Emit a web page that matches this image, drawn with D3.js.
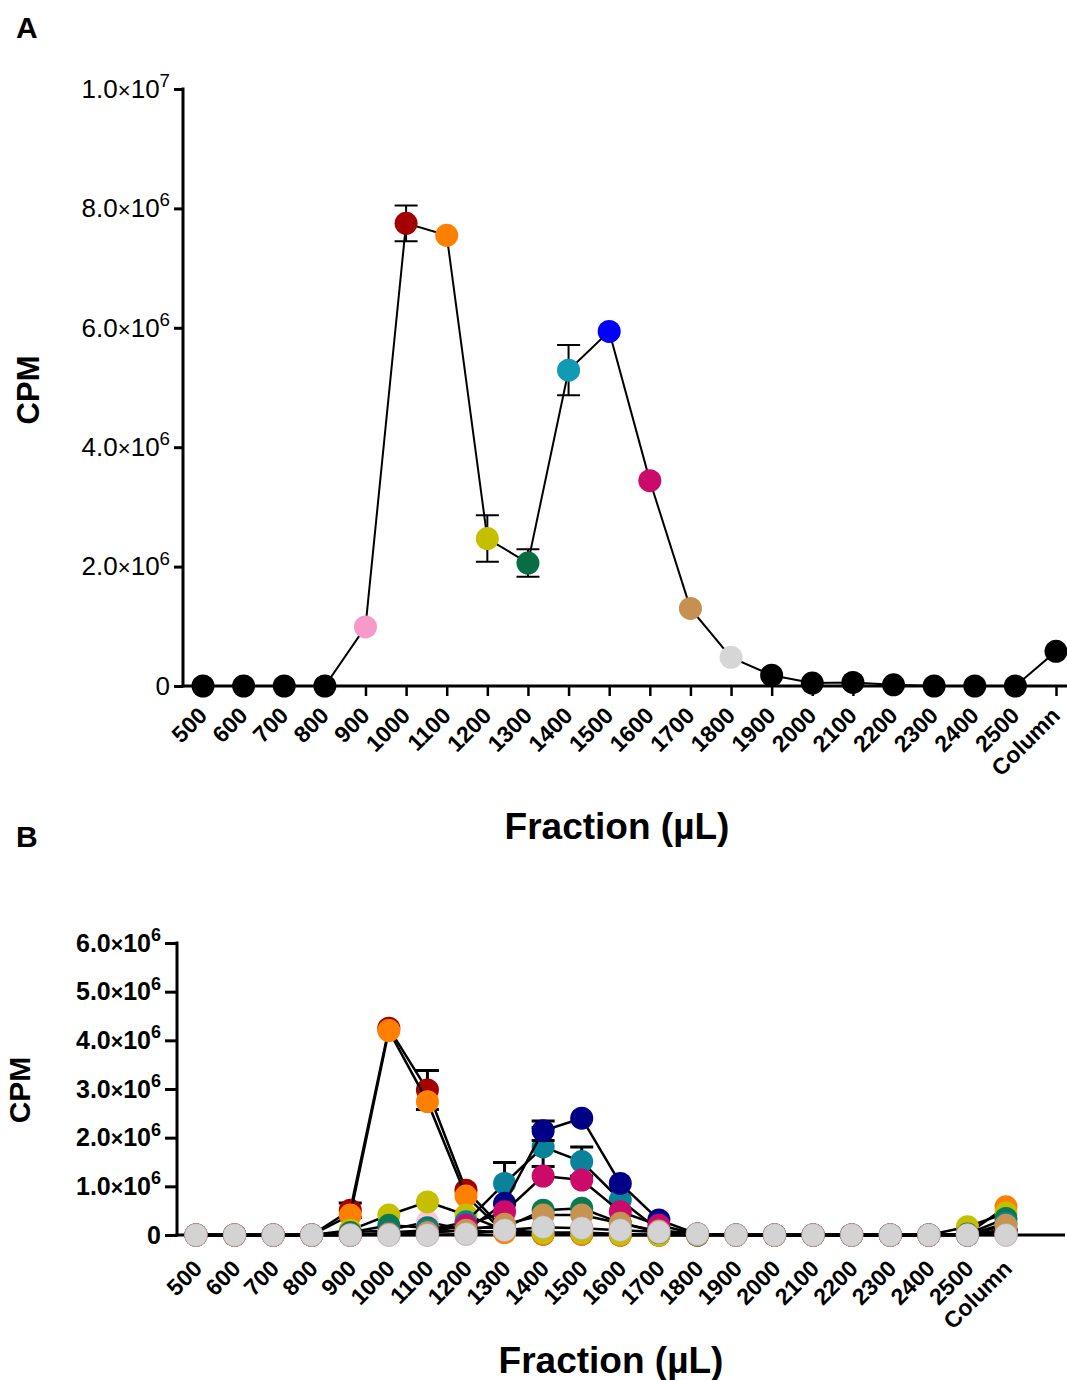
<!DOCTYPE html>
<html>
<head>
<meta charset="utf-8">
<script src="https://cdn.jsdelivr.net/npm/d3@7"></script>
<style>
  body { margin: 0; background: #fff; }
  svg { display: block; }
  text { font-family: Arial, "Liberation Sans", sans-serif; fill: #000; }
</style>
</head>
<body>
<div id="chart"></div>
<script>
// x categories, shared by both panels
var fractions = ["500", "600", "700", "800", "900", "1000", "1100", "1200", "1300", "1400", "1500",
                 "1600", "1700", "1800", "1900", "2000", "2100", "2200", "2300", "2400", "2500", "Column"];

// panel A: CPM in millions, error (SD) in millions, dot colour per fraction
var cpmA = [0, 0, 0, 0, 0.99, 7.75, 7.55, 2.47, 2.06, 5.29, 5.94, 3.44, 1.30, 0.48, 0.18, 0.05, 0.06, 0.02, 0, 0, 0, 0.58];
var errA = [0, 0, 0, 0, 0, 0.30, 0, 0.39, 0.23, 0.42, 0, 0, 0, 0, 0, 0, 0, 0, 0, 0, 0, 0];
var colorsA = ["#000", "#000", "#000", "#000", "#f799c9", "#a50000", "#ff8000", "#c4c000", "#066d45", "#1199b5",
               "#0000ff", "#cc0a69", "#c69150", "#d6d6d6", "#000", "#000", "#000", "#000", "#000", "#000", "#000", "#000"];
var ticksA = [0, 2e6, 4e6, 6e6, 8e6, 1e7];

// panel B: one curve per re-run fraction (CPM in millions)
var b900  = [0, 0, 0, 0, 0.05, 0.10, 0.27, 0.10, 0.05, 0.02, 0.02, 0, 0, 0, 0, 0, 0, 0, 0, 0, 0, 0.05];
var b1000 = [0, 0, 0, 0, 0.51, 4.25, 2.98, 0.92, 0.10, 0.02, 0.02, 0, 0, 0, 0, 0, 0, 0, 0, 0, 0.02, 0.10];
var b1100 = [0, 0, 0, 0, 0.41, 4.20, 2.74, 0.80, 0.05, 0.02, 0.02, 0, 0, 0, 0, 0, 0, 0, 0, 0, 0.02, 0.58];
var b1200 = [0, 0, 0, 0, 0.10, 0.41, 0.68, 0.41, 0.10, 0.05, 0.05, 0.02, 0, 0, 0, 0, 0, 0, 0, 0, 0.17, 0.45];
var b1300 = [0, 0, 0, 0, 0.05, 0.20, 0.15, 0.15, 0.15, 0.51, 0.55, 0.25, 0.05, 0, 0, 0, 0, 0, 0, 0, 0.02, 0.34];
var b1400 = [0, 0, 0, 0, 0, 0.05, 0.10, 0.27, 1.06, 1.81, 1.51, 0.72, 0.10, 0.02, 0, 0, 0, 0, 0, 0, 0, 0.24];
var b1500 = [0, 0, 0, 0, 0, 0.02, 0.05, 0.10, 0.65, 2.14, 2.40, 1.06, 0.31, 0.02, 0, 0, 0, 0, 0, 0, 0, 0.10];
var b1600 = [0, 0, 0, 0, 0, 0.02, 0.05, 0.20, 0.48, 1.21, 1.13, 0.48, 0.20, 0.02, 0, 0, 0, 0, 0, 0, 0, 0.10];
var b1700 = [0, 0, 0, 0, 0, 0.02, 0.05, 0.10, 0.22, 0.41, 0.41, 0.24, 0.08, 0.01, 0, 0, 0, 0, 0, 0, 0, 0.20];
var b1800 = [0, 0, 0, 0, 0, 0, 0, 0.02, 0.10, 0.16, 0.14, 0.10, 0.06, 0.02, 0, 0, 0, 0, 0, 0, 0, 0];
// error bars (millions), only where visible
var e1000 = [0, 0, 0, 0, 0.15, 0, 0.40, 0, 0, 0, 0, 0, 0, 0, 0, 0, 0, 0, 0, 0, 0, 0];
var e1400 = [0, 0, 0, 0, 0, 0, 0, 0, 0.43, 0.40, 0.30, 0, 0, 0, 0, 0, 0, 0, 0, 0, 0, 0];
var e1500 = [0, 0, 0, 0, 0, 0, 0, 0, 0, 0.20, 0, 0, 0, 0, 0, 0, 0, 0, 0, 0, 0, 0];
var seriesNamesB = ["900", "1000", "1100", "1200", "1300", "1400", "1500", "1600", "1700", "1800"];
var colorsB = ["#ffc6e0", "#a50000", "#ff8000", "#c4c000", "#0a7a52", "#0a8299", "#000087", "#cc0a69", "#c69450", "#d3d3d3"];
var ticksB = [0, 1e6, 2e6, 3e6, 4e6, 5e6, 6e6];

var valuesB = [b900, b1000, b1100, b1200, b1300, b1400, b1500, b1600, b1700, b1800];
var errorsB = [null, e1000, null, null, null, e1400, e1500, null, null, null];

var width = 1067, height = 1380;

var svg = d3.select("#chart").append("svg")
    .attr("width", width)
    .attr("height", height);

svg.append("rect").attr("width", width).attr("height", height).attr("fill", "#fff");

// writes "m.0×10^e" as tspans into a tick text
function sciLabel(sel, v, size, supSize) {
    sel.text(null);
    if (v === 0) { sel.text("0"); return; }
    var e = Math.floor(Math.log10(v) + 1e-9);
    var m = v / Math.pow(10, e);
    sel.append("tspan").text(m.toFixed(1));
    sel.append("tspan").attr("font-size", size * 0.85).text("\u00d7");
    sel.append("tspan").text("10");
    sel.append("tspan").attr("font-size", supSize).attr("dy", -size * 0.42).text(e);
}

function drawPanel(cfg) {
    var g = svg.append("g");

    var x = d3.scalePoint().domain(fractions).range(cfg.xRange);
    var y = d3.scaleLinear().domain(cfg.yDomain).range([cfg.y0, cfg.yTop]);

    // y axis
    var yAxis = g.append("g")
        .attr("transform", "translate(" + cfg.axisX + ",0)")
        .call(d3.axisLeft(y).tickValues(cfg.ticks).tickSize(cfg.yTick).tickSizeOuter(0).tickPadding(4));
    yAxis.select(".domain").remove();
    yAxis.selectAll(".tick line").attr("stroke", "#000").attr("stroke-width", 3);
    yAxis.selectAll(".tick text")
        .attr("font-size", cfg.yFont)
        .attr("font-weight", cfg.yBold ? "bold" : "normal")
        .attr("fill", "#000")
        .each(function(d) { sciLabel(d3.select(this), d, cfg.yFont, cfg.yFont * 0.72); });
    g.append("line")
        .attr("x1", cfg.axisX).attr("x2", cfg.axisX)
        .attr("y1", cfg.yTop - 1.5).attr("y2", cfg.y0 + 1.5)
        .attr("stroke", "#000").attr("stroke-width", 3);

    // x axis
    var xAxis = g.append("g")
        .attr("transform", "translate(0," + cfg.y0 + ")")
        .call(d3.axisBottom(x).tickSize(cfg.xTick).tickSizeOuter(0));
    xAxis.select(".domain").remove();
    xAxis.selectAll(".tick line").attr("stroke", "#000").attr("stroke-width", 2.5);
    xAxis.selectAll(".tick text")
        .attr("font-size", cfg.xFont)
        .attr("font-weight", "bold")
        .attr("fill", "#000")
        .attr("text-anchor", "end")
        .attr("y", 0).attr("dy", 0)
        .attr("transform", "translate(" + cfg.xLabelDx + "," + cfg.xLabelDy + ") rotate(-45)");
    g.append("line")
        .attr("x1", cfg.axisX - 1.5).attr("x2", cfg.xEnd)
        .attr("y1", cfg.y0).attr("y2", cfg.y0)
        .attr("stroke", "#000").attr("stroke-width", 3);

    // titles
    g.append("text")
        .attr("x", cfg.xTitle[0]).attr("y", cfg.xTitle[1])
        .attr("text-anchor", "middle")
        .attr("font-size", 37).attr("font-weight", "bold")
        .text("Fraction (\u00b5L)");
    g.append("text")
        .attr("transform", "translate(" + cfg.yTitle[0] + "," + cfg.yTitle[1] + ") rotate(-90)")
        .attr("text-anchor", "middle")
        .attr("font-size", cfg.yTitleFont).attr("font-weight", "bold")
        .text("CPM");
    g.append("text")
        .attr("x", cfg.letter[0]).attr("y", cfg.letter[1])
        .attr("font-size", 30).attr("font-weight", "bold")
        .text(cfg.letterText);

    return { g: g, x: x, y: y };
}

// ---------- panel A ----------
var A = drawPanel({
    xRange: [203, 1056], yDomain: [0, 1e7], y0: 686, yTop: 89, axisX: 183, xEnd: 1067,
    ticks: ticksA, yTick: 9, yFont: 26, yBold: false,
    xTick: 10, xFont: 23, xLabelDx: 5, xLabelDy: 31,
    xTitle: [617, 839], yTitle: [39, 390], yTitleFont: 31,
    letter: [16, 38], letterText: "A"
});

var rowsA = fractions.map(function(f, i) {
    return { f: f, v: cpmA[i] * 1e6, e: errA[i] * 1e6, c: colorsA[i] };
});

A.g.selectAll(".errA").data(rowsA.filter(function(d) { return d.e > 0; }))
    .enter().append("path")
    .attr("fill", "none").attr("stroke", "#000").attr("stroke-width", 2)
    .attr("d", function(d) {
        var cx = A.x(d.f), t = A.y(d.v + d.e), b = A.y(d.v - d.e), w = 11.5;
        return "M" + cx + "," + t + "V" + b +
               "M" + (cx - w) + "," + t + "H" + (cx + w) +
               "M" + (cx - w) + "," + b + "H" + (cx + w);
    });

A.g.append("path")
    .datum(rowsA)
    .attr("fill", "none").attr("stroke", "#000").attr("stroke-width", 2)
    .attr("d", d3.line().x(function(d) { return A.x(d.f); }).y(function(d) { return A.y(d.v); }));

A.g.selectAll(".dotA").data(rowsA)
    .enter().append("circle")
    .attr("cx", function(d) { return A.x(d.f); })
    .attr("cy", function(d) { return A.y(d.v); })
    .attr("r", 11.5)
    .attr("fill", function(d) { return d.c; });

// ---------- panel B ----------
var B = drawPanel({
    xRange: [196, 1006], yDomain: [0, 6e6], y0: 1235, yTop: 943, axisX: 177, xEnd: 1065,
    ticks: ticksB, yTick: 12, yFont: 25, yBold: true,
    xTick: 8, xFont: 23, xLabelDx: 7, xLabelDy: 35,
    xTitle: [611, 1373], yTitle: [30, 1090], yTitleFont: 30,
    letter: [16, 847], letterText: "B"
});

valuesB.forEach(function(vals, s) {
    var rows = fractions.map(function(f, i) {
        return { f: f, v: vals[i] * 1e6, e: errorsB[s] ? errorsB[s][i] * 1e6 : 0 };
    });
    var sg = B.g.append("g").attr("class", "series-" + seriesNamesB[s]);

    sg.selectAll("path.err").data(rows.filter(function(d) { return d.e > 0; }))
        .enter().append("path")
        .attr("class", "err")
        .attr("fill", "none").attr("stroke", "#000").attr("stroke-width", 3)
        .attr("d", function(d) {
            var cx = B.x(d.f), t = B.y(d.v + d.e), b = B.y(Math.max(0, d.v - d.e)), w = 11.5;
            return "M" + cx + "," + t + "V" + b +
                   "M" + (cx - w) + "," + t + "H" + (cx + w) +
                   "M" + (cx - w) + "," + b + "H" + (cx + w);
        });

    sg.append("path")
        .datum(rows)
        .attr("fill", "none").attr("stroke", "#000").attr("stroke-width", 2.5)
        .attr("d", d3.line().x(function(d) { return B.x(d.f); }).y(function(d) { return B.y(d.v); }));

    sg.selectAll("circle").data(rows)
        .enter().append("circle")
        .attr("cx", function(d) { return B.x(d.f); })
        .attr("cy", function(d) { return B.y(d.v); })
        .attr("r", 11.5)
        .attr("fill", colorsB[s])
        .attr("stroke", s === 9 ? "#b09a9a" : "none")
        .attr("stroke-width", 0.6);
});
</script>
</body>
</html>
